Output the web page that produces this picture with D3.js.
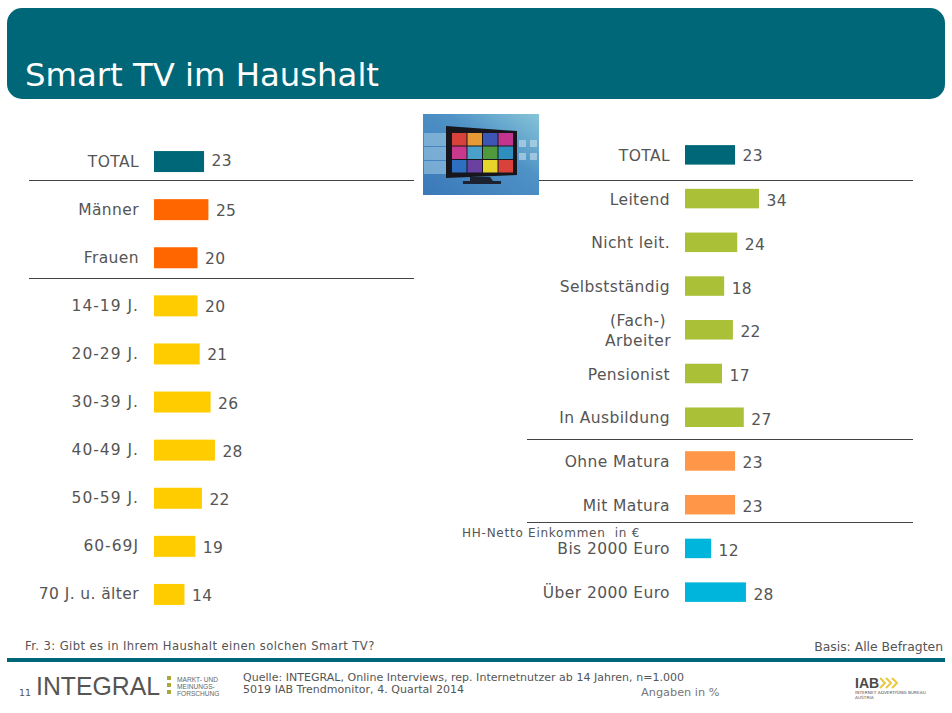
<!DOCTYPE html>
<html><head><meta charset="utf-8">
<script src="https://cdn.jsdelivr.net/npm/d3@7/dist/d3.min.js"></script>
<style>html,body{margin:0;padding:0;background:#fff}svg{display:block}text{font-family:"DejaVu Sans",Verdana,sans-serif;white-space:pre}</style>
</head><body><svg id="c" width="952" height="713"></svg>
<script>
const leftCategories=["TOTAL","Männer","Frauen","14-19 J.","20-29 J.","30-39 J.","40-49 J.","50-59 J.","60-69J","70 J. u. älter"];
const leftValues=[23,25,20,20,21,26,28,22,19,14];
const leftGroups=["total","sex","sex","age","age","age","age","age","age","age"];
const rightCategories=["TOTAL","Leitend","Nicht leit.","Selbstständig","(Fach-)|Arbeiter","Pensionist","In Ausbildung","Ohne Matura","Mit Matura","Bis 2000 Euro","Über 2000 Euro"];
const rightValues=[23,34,24,18,22,17,27,23,23,12,28];
const rightGroups=["total","job","job","job","job","job","job","edu","edu","inc","inc"];
const colors={total:"#006778",sex:"#ff6600",age:"#ffcc00",job:"#a9c037",edu:"#ff9648",inc:"#00b5dc"};
const textCol="#555555";
const svg=d3.select("#c");
const defs=svg.append("defs");
defs.append("filter").attr("id","soft").append("feGaussianBlur").attr("stdDeviation",.45);

// header
const teal="#006778";
svg.append("rect").attr("x",7).attr("y",8).attr("width",938).attr("height",91).attr("rx",15).attr("fill",teal);
svg.append("text").attr("x",25).attr("y",86).attr("font-size",32.3).attr("fill","#fff").text("Smart TV im Haushalt");

function panel(cats,vals,groups,x0,top,bottom,bh,labelDy){
  const y=d3.scaleBand().domain(cats).range([top,bottom]);
  const x=d3.scaleLinear().domain([0,34]).range([x0,x0+74]);
  const g=svg.append("g");
  const data=cats.map((c,i)=>({c,v:vals[i],g:groups[i]}));
  g.selectAll("rect").data(data).join("rect")
    .attr("x",x(0)).attr("y",d=>y(d.c)+y.bandwidth()/2-bh/2)
    .attr("width",d=>x(d.v)-x(0)).attr("height",bh).attr("fill",d=>colors[d.g]);
  g.selectAll("text.v").data(data).join("text").attr("class","v")
    .attr("x",d=>x(d.v)+7.5)
    .attr("y",d=>y(d.c)+y.bandwidth()/2+6.5+labelDy-(d.g==="total"?1.8:0))
    .attr("font-size",15.5).attr("letter-spacing",.3).attr("fill",textCol).text(d=>d.v);
  data.forEach(d=>{
    const parts=d.c.split("|");
    parts.forEach((p,i)=>{
      g.append("text").attr("x",parts.length>1?x0-47:x0-15)
       .attr("y",y(d.c)+y.bandwidth()/2+5+labelDy+(i-(parts.length-1)/2)*20)
       .attr("text-anchor",parts.length>1?"middle":"end")
       .attr("font-size",15.5).attr("letter-spacing",/^\d\d-/.test(p)?1:.4).attr("fill",textCol).text(p);
    });
  });
}
panel(leftCategories,leftValues,leftGroups,154,137.5,618.5,21,0);
panel(rightCategories,rightValues,rightGroups,685,133,614,19.5,1);

// separators
[[29,414,180],[29,414,278],[527,913,180],[527,913,439],[527,913,522]].forEach(l=>{
  svg.append("line").attr("x1",l[0]).attr("x2",l[1]).attr("y1",l[2]+.5).attr("y2",l[2]+.5).attr("stroke","#444").attr("stroke-width",1);
});
svg.append("text").attr("x",462).attr("y",537).attr("font-size",12).attr("letter-spacing",.75).attr("fill",textCol).text("HH-Netto Einkommen  in €");

// TV picture
const tv=svg.append("g").attr("filter","url(#soft)");
const gr=defs.append("linearGradient").attr("id","bg").attr("x1",0).attr("y1",1).attr("x2",1).attr("y2",0);
gr.append("stop").attr("offset",0).attr("stop-color","#3a78b8");
gr.append("stop").attr("offset",.6).attr("stop-color","#4f92c6");
gr.append("stop").attr("offset",1).attr("stop-color","#86c4d8");
tv.append("rect").attr("x",423).attr("y",114).attr("width",116).attr("height",81).attr("fill","url(#bg)");
[[424,133],[424,147],[424,161]].forEach(p=>tv.append("rect").attr("x",p[0]).attr("y",p[1]).attr("width",22).attr("height",13).attr("fill","#9cc8e2").attr("opacity",.6));
tv.append("path").attr("d","M446 126L517 131V175L446 178Z").attr("fill","#16181f");
tv.append("path").attr("d","M470 177h20l3 4h8v3h-38v-3h7z").attr("fill","#1b2230");
const tiles=[["#d8433a","#e59a35","#3d55b5","#c2348e"],["#c8388c","#4aa0c8","#4f9a3d","#2f8fbf"],["#2f6fc0","#6a3fa0","#e6d52c","#d8433a"]];
tiles.forEach((r,j)=>r.forEach((c,i)=>tv.append("rect").attr("x",452+i*15.5).attr("y",133+j*13.5).attr("width",14.5).attr("height",12.5).attr("fill",c)));
[[519,140],[519,153],[530,140],[530,153]].forEach(p=>tv.append("rect").attr("x",p[0]).attr("y",p[1]).attr("width",7).attr("height",7).attr("fill","#cfe4ef").attr("opacity",.55));

// footer
svg.append("text").attr("x",25).attr("y",650).attr("font-size",11.6).attr("letter-spacing",.4).attr("fill",textCol).text("Fr. 3: Gibt es in Ihrem Haushalt einen solchen Smart TV?");
svg.append("text").attr("x",943).attr("y",651).attr("text-anchor","end").attr("font-size",12.4).attr("fill",textCol).text("Basis: Alle Befragten");
svg.append("rect").attr("x",7).attr("y",658).attr("width",938).attr("height",4).attr("fill",teal);
svg.append("text").attr("x",19).attr("y",696).attr("font-size",9.5).attr("fill",textCol).text("11");
svg.append("text").attr("x",36).attr("y",695).attr("font-size",26).attr("textLength",124).attr("lengthAdjust","spacingAndGlyphs").attr("fill","#555").style("font-family","'Liberation Sans'").text("INTEGRAL");
[679,686,693].forEach(y=>svg.append("rect").attr("x",167).attr("y",y-3).attr("width",4).attr("height",4).attr("fill","#a9a838"));
["MARKT- UND","MEINUNGS-","FORSCHUNG"].forEach((t,i)=>svg.append("text").attr("x",177).attr("y",682+i*7).attr("font-size",6.6).style("font-family","'Liberation Sans'").attr("fill","#666").text(t));
svg.append("text").attr("x",243).attr("y",681).attr("font-size",11).attr("fill",textCol).attr("textLength",441).text("Quelle: INTEGRAL, Online Interviews, rep. Internetnutzer ab 14 Jahren, n=1.000");
svg.append("text").attr("x",243).attr("y",693).attr("font-size",11).attr("letter-spacing",.03).attr("fill",textCol).text("5019 IAB Trendmonitor, 4. Quartal 2014");
svg.append("text").attr("x",641).attr("y",696).attr("font-size",11.3).attr("fill","#777").text("Angaben in %");
svg.append("text").attr("x",855).attr("y",688).attr("font-size",14).attr("font-weight",700).style("font-family","'Liberation Sans'").attr("fill","#4a4a4a").text("IAB");
[0,1,2].forEach(i=>svg.append("path").attr("d",`M${880+i*6} 678l5 5l-5 5`).attr("fill","none").attr("stroke","#e8c840").attr("stroke-width",2));
svg.append("text").attr("x",855).attr("y",694).attr("font-size",4.3).attr("fill","#555").text("INTERNET ADVERTISING BUREAU");
svg.append("text").attr("x",855).attr("y",699).attr("font-size",4.3).attr("fill","#555").text("AUSTRIA");
</script></body></html>
